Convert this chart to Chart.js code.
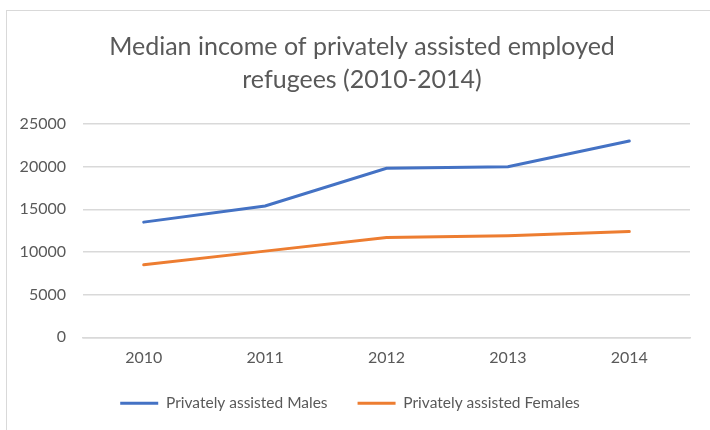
<!DOCTYPE html>
<html>
<head>
<meta charset="utf-8">
<title>Median income of privately assisted employed refugees</title>
<script src="https://cdn.jsdelivr.net/npm/chart.js@4/dist/chart.umd.min.js"></script>
<style>
  html, body { margin: 0; padding: 0; background: #fff; overflow: hidden; }
  #frame {
    position: absolute; left: 6px; top: 10px; width: 730px; height: 450px;
    border: 1px solid #d9d9d9; box-sizing: border-box;
  }
  #wrap { position: absolute; left: 0; top: 0; width: 710px; height: 430px; }
</style>
</head>
<body>
<div id="frame"></div>
<div id="wrap"><canvas id="myCanvas" width="710" height="430"></canvas></div>
<script>
const years = ['2010', '2011', '2012', '2013', '2014'];
const males = [13500, 15400, 19800, 20000, 23000];
const females = [8500, 10100, 11700, 11900, 12400];
const yTicks = [0, 5000, 10000, 15000, 20000, 25000];

const textColor = '#595959';
const gridColor = '#d9d9d9';
const fontFamily = 'Lato, "Open Sans", sans-serif';

// title sits a little right of the plot centre
const shiftTitle = {
  id: 'shiftTitle',
  afterLayout(chart) {
    const t = chart.titleBlock;
    t.left += 12; t.right += 12;
  }
};

const data = {
  labels: years,
  datasets: [{
    label: 'Privately assisted Males',
    data: males,
    borderColor: '#4472c4',
    backgroundColor: '#4472c4',
    borderWidth: 3,
    pointRadius: 0,
    borderCapStyle: 'round',
    tension: 0
  },
  {
    label: 'Privately assisted Females',
    data: females,
    borderColor: '#ed7d31',
    backgroundColor: '#ed7d31',
    borderWidth: 3,
    pointRadius: 0,
    borderCapStyle: 'round',
    tension: 0
  }]
};

const config = {
  type: 'line',
  data: data,
  plugins: [shiftTitle],
  options: {
    responsive: false,
    animation: false,
    layout: { padding: { left: 10, right: 20, top: 31, bottom: 9 } },
    plugins: {
      title: {
        display: true,
        text: ['Median income of privately assisted employed', 'refugees (2010-2014)'],
        color: textColor,
        font: { family: fontFamily, size: 25, weight: 'normal', lineHeight: 1.3 },
        padding: { top: 0, bottom: 28 }
      },
      legend: {
        position: 'bottom',
        labels: {
          color: textColor,
          font: { family: fontFamily, size: 15.5 },
          usePointStyle: true,
          pointStyle: 'line',
          pointStyleWidth: 38,
          boxHeight: 3,
          padding: 30
        }
      },
      tooltip: { enabled: false }
    },
    scales: {
      x: {
        offset: true,
        afterFit: s => { s.height -= 5; },
        grid: { display: false },
        border: { display: true, color: gridColor, width: 1.5 },
        ticks: { color: textColor, font: { family: fontFamily, size: 16 }, padding: 3 }
      },
      y: {
        min: 0,
        max: 25000,
        afterFit: s => { s.width = 73; },
        afterBuildTicks: s => { s.ticks = yTicks.map(v => ({ value: v })); },
        grid: { color: gridColor, lineWidth: 1.5, drawTicks: false },
        border: { display: false },
        ticks: {
          color: textColor,
          font: { family: fontFamily, size: 16 },
          padding: 17,
          callback: v => String(v)
        }
      }
    }
  }
};

const myChart = new Chart(document.getElementById('myCanvas'), config);
</script>
</body>
</html>
